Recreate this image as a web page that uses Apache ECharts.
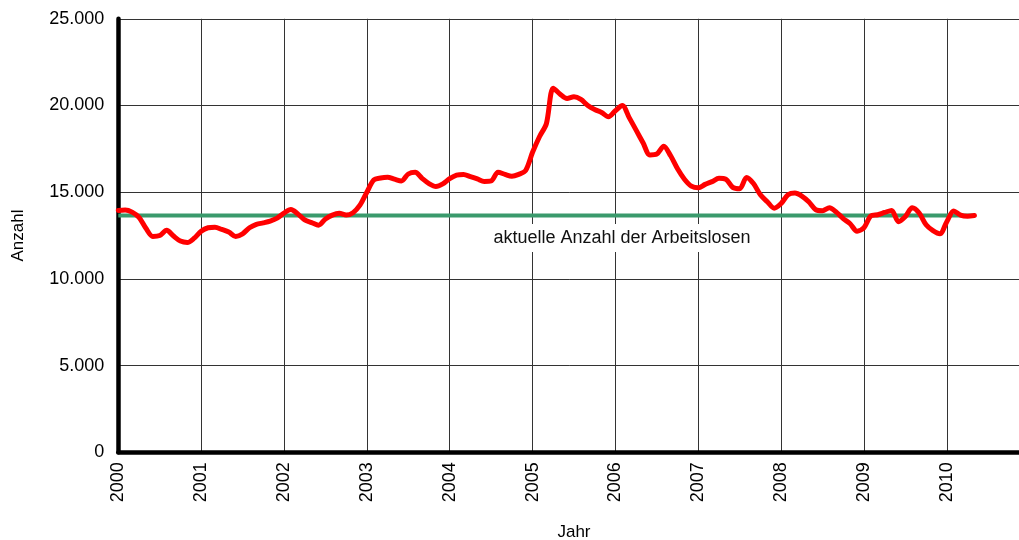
<!DOCTYPE html>
<html>
<head>
<meta charset="utf-8">
<script src="https://cdn.jsdelivr.net/npm/echarts@6/dist/echarts.min.js"></script>
<style>
html,body{margin:0;padding:0;background:#fff;}
#c{width:1019px;height:540px;}
</style>
</head>
<body>
<div id="c"></div>
<script>
// Monthly values, starting January 2000
const startYear = 2000;
const arbeitslose = [
  13950, 13970, 13850, 13550, 12920, 12450, 12500, 12800, 12470, 12180, 12100, 12350,
  12750, 12950, 12980, 12850, 12700, 12450, 12600, 12950, 13150, 13230, 13330, 13500,
  13800, 14000, 13750, 13400, 13250, 13100, 13450, 13680, 13780, 13680, 13820, 14250,
  15000, 15700, 15820, 15860, 15750, 15650, 16050, 16150, 15800, 15500, 15330, 15480,
  15780, 15980, 16020, 15900, 15770, 15620, 15650, 16150, 16030, 15920, 16030, 16250,
  17300, 18200, 18950, 21000, 20650, 20400, 20500, 20350, 20000, 19770, 19600, 19350,
  19700, 20000, 19300, 18580, 17850, 17150, 17200, 17650, 17100, 16350, 15750, 15350,
  15250, 15450, 15610, 15800, 15750, 15280, 15200, 15850, 15500, 14850, 14450, 14080,
  14350, 14850, 14950, 14780, 14450, 14000, 13930, 14100, 13850, 13480, 13180, 12750,
  12950, 13630, 13700, 13830, 13950, 13300, 13600, 14100, 13800, 13120, 12780, 12600,
  13300, 13920, 13680, 13620, 13660
];
const aktuellWert = 13650;
const aktuellLabel = 'aktuelle Anzahl der Arbeitslosen';
const labelPos = [2006.08, 12360];
const xMin = 2000, xMax = 2011, xStep = 1;
const yMin = 0, yMax = 25000, yStep = 5000;

const lineData = arbeitslose.map((v, i) => [startYear + i / 12, v]);
const lastX = startYear + (arbeitslose.length - 1) / 12;
const greenData = [[startYear, aktuellWert], [lastX, aktuellWert]];

const fmt = v => String(v).replace(/\B(?=(\d{3})+(?!\d))/g, '.');
const font = 'Liberation Sans, Arial, sans-serif';

const chart = echarts.init(document.getElementById('c'));
chart.setOption({
  animation: false,
  backgroundColor: '#fff',
  grid: { left: 118.3, top: 18.8, width: 911.35, bottom: 87.7, containLabel: false, outerBoundsMode: 'none' },
  xAxis: {
    type: 'value', min: xMin, max: xMax, interval: xStep,
    name: 'Jahr', nameLocation: 'middle', nameGap: 72,
    nameTextStyle: { fontFamily: font, fontSize: 17, color: '#000' },
    axisLine: { show: true, onZero: false, lineStyle: { color: '#000', width: 4.5 } },
    axisTick: { show: false },
    axisLabel: { rotate: 90, margin: 10, fontFamily: font, fontSize: 18, color: '#000',
      formatter: v => (v >= xMax ? '' : String(v)) },
    splitLine: { show: true, lineStyle: { color: '#333', width: 1 } }
  },
  yAxis: {
    type: 'value', min: yMin, max: yMax, interval: yStep,
    name: 'Anzahl', nameLocation: 'middle', nameGap: 91, nameRotate: 90,
    nameTextStyle: { fontFamily: font, fontSize: 17, color: '#000' },
    axisLine: { show: true, lineStyle: { color: '#000', width: 4.5 } },
    axisTick: { show: false },
    axisLabel: { margin: 14, fontFamily: font, fontSize: 18, color: '#000', formatter: v => fmt(v) },
    splitLine: { show: true, lineStyle: { color: '#333', width: 1 } }
  },
  series: [
    {
      type: 'line', data: greenData, symbol: 'none', z: 3,
      lineStyle: { color: '#3a9a6c', width: 4 },
      markPoint: {
        symbol: 'rect', symbolSize: 0,
        data: [{ coord: labelPos, value: aktuellLabel }],
        label: {
          show: true, position: 'inside', formatter: aktuellLabel,
          fontFamily: font, fontSize: 18, color: '#111',
          backgroundColor: '#fff', padding: [5, 3, 5, 3]
        }
      }
    },
    {
      type: 'line', data: lineData, symbol: 'none', smooth: 0.3, z: 4,
      lineStyle: { color: '#ff0000', width: 5, cap: 'round', join: 'round' }
    }
  ]
});
</script>
</body>
</html>
